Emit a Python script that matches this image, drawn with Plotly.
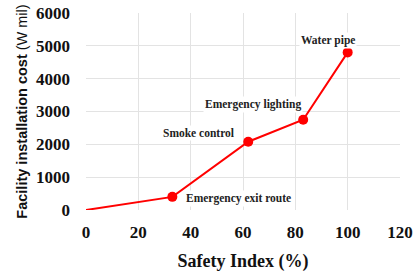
import plotly.graph_objects as go

safety_index = [0, 33, 62, 83, 100]
cost = [0, 400, 2080, 2750, 4800]
labels = ["", "Emergency exit route", "Smoke control", "Emergency lighting", "Water pipe"]
label_shift = [(66, -2), (-50, 9), (-50, 15), (-20, 12)]

fig = go.Figure()
fig.add_trace(go.Scatter(
    x=safety_index, y=cost, mode="lines",
    line=dict(color="#ff0000", width=2),
    showlegend=False, hoverinfo="skip"))
fig.add_trace(go.Scatter(
    x=safety_index[1:], y=cost[1:], mode="markers",
    marker=dict(color="#ff0000", size=10, opacity=1, line=dict(width=0)),
    showlegend=False, hoverinfo="skip"))

for xv, yv, lab, (dx, dy) in zip(safety_index[1:], cost[1:], labels[1:], label_shift):
    fig.add_annotation(x=xv, y=yv, text="<b>" + lab + "</b>", showarrow=False,
                       xshift=dx, yshift=dy,
                       font=dict(family="Liberation Serif", size=11.5, color="#222"),
                       bgcolor="white")

tick_font = dict(family="Liberation Serif", size=17, color="#111", weight="bold")
fig.update_layout(
    width=417, height=277,
    margin=dict(l=86, r=17, t=13, b=67),
    paper_bgcolor="white", plot_bgcolor="white",
    xaxis=dict(range=[0, 120], dtick=20, showgrid=True, gridcolor="#e3e3e3",
               zeroline=False, showline=False, automargin=False,
               tickfont=tick_font, ticklabelstandoff=10,
               title=dict(text="<b>Safety Index (%)</b>", standoff=13,
                          font=dict(family="Liberation Serif", size=18, color="#111"))),
    yaxis=dict(range=[0, 6000], dtick=1000, showgrid=True, gridcolor="#e3e3e3",
               zeroline=False, showline=False, automargin=False,
               tickfont=tick_font, ticklabelstandoff=15,
               title=dict(text="<b>Facility installation cost</b> (W mil)", standoff=4,
                          font=dict(family="Liberation Sans", size=14.5, color="#111"))),
)
fig.write_html("out.html", config={"displayModeBar": False},
               post_script="document.body.style.margin='0';")
